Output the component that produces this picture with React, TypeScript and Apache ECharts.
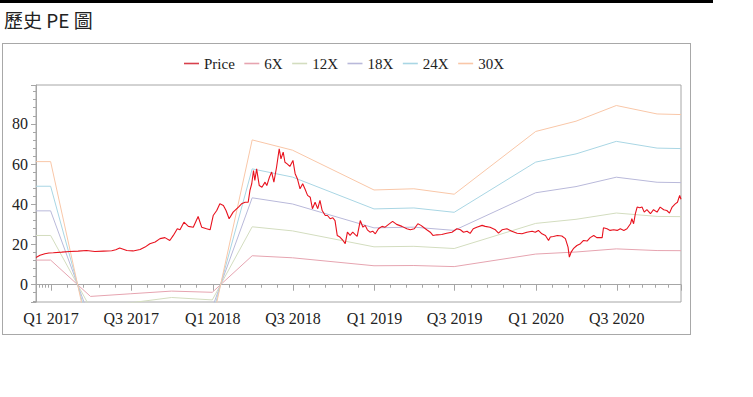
import React, { useEffect, useRef } from "react";
import * as echarts from "echarts";

const chartTitle = "歷史 PE 圖";
const legendNames = ["Price", "6X", "12X", "18X", "24X", "30X"];
const peMultiples = [6, 12, 18, 24, 30];
const priceColor = "#e8121e";
const bandColors = ["#e6a4b0", "#d3ddbf", "#b9b9da", "#a9d6e4", "#f9c7a8"];

// Quarterly EPS (per share) that the PE bands are built on
const epsDates = [
  "2016-11-28", "2016-12-31", "2017-03-31", "2017-06-30", "2017-09-30", "2017-12-31",
  "2018-03-31", "2018-06-30", "2018-12-31", "2019-03-31", "2019-06-30", "2019-12-31",
  "2020-03-31", "2020-06-30", "2020-09-30", "2020-11-23",
];
const epsValues = [
  2.04, 2.04, -0.97, -0.75, -0.53, -0.63,
  2.4, 2.23, 1.57, 1.59, 1.5, 2.54,
  2.71, 2.97, 2.83, 2.82,
];

const priceDates = [
  "2016-11-28", "2016-12-07", "2016-12-18", "2016-12-27", "2017-01-06", "2017-01-25", "2017-02-12", "2017-03-03",
  "2017-03-22", "2017-04-10", "2017-04-29", "2017-05-18", "2017-05-27", "2017-06-05", "2017-06-21", "2017-07-05",
  "2017-07-21", "2017-08-01", "2017-08-12", "2017-08-24", "2017-09-04", "2017-09-15", "2017-09-26", "2017-10-04",
  "2017-10-13", "2017-10-19", "2017-10-28", "2017-11-07", "2017-11-18", "2017-11-29", "2017-12-07", "2017-12-18",
  "2017-12-26", "2018-01-02", "2018-01-10", "2018-01-17", "2018-01-25", "2018-01-31", "2018-02-07", "2018-02-16",
  "2018-02-28", "2018-03-07", "2018-03-15", "2018-03-22", "2018-03-26", "2018-03-30", "2018-04-03", "2018-04-06",
  "2018-04-10", "2018-04-16", "2018-04-22", "2018-04-29", "2018-05-03", "2018-05-09", "2018-05-14", "2018-05-19",
  "2018-05-25", "2018-05-31", "2018-06-04", "2018-06-09", "2018-06-13", "2018-06-18", "2018-06-24", "2018-07-01",
  "2018-07-06", "2018-07-11", "2018-07-17", "2018-07-23", "2018-07-28", "2018-08-03", "2018-08-09", "2018-08-14",
  "2018-08-20", "2018-08-26", "2018-08-31", "2018-09-05", "2018-09-12", "2018-09-17", "2018-09-23", "2018-09-29",
  "2018-10-04", "2018-10-09", "2018-10-15", "2018-10-22", "2018-10-27", "2018-11-01", "2018-11-07", "2018-11-13",
  "2018-11-18", "2018-11-23", "2018-11-30", "2018-12-06", "2018-12-11", "2018-12-16", "2018-12-22", "2018-12-28",
  "2019-01-03", "2019-01-10", "2019-01-18", "2019-01-25", "2019-02-02", "2019-02-11", "2019-02-20", "2019-03-04",
  "2019-03-15", "2019-03-23", "2019-04-01", "2019-04-09", "2019-04-16", "2019-04-23", "2019-04-29", "2019-05-07",
  "2019-05-13", "2019-05-22", "2019-06-02", "2019-06-13", "2019-06-25", "2019-07-06", "2019-07-14", "2019-07-21",
  "2019-07-29", "2019-08-05", "2019-08-12", "2019-08-20", "2019-09-01", "2019-09-08", "2019-09-19", "2019-10-01",
  "2019-10-08", "2019-10-16", "2019-10-27", "2019-11-07", "2019-11-19", "2019-11-30", "2019-12-11", "2019-12-23",
  "2019-12-30", "2020-01-06", "2020-01-14", "2020-01-22", "2020-01-29", "2020-02-02", "2020-02-09", "2020-02-18",
  "2020-02-28", "2020-03-07", "2020-03-13", "2020-03-16", "2020-03-20", "2020-03-25", "2020-04-02", "2020-04-10",
  "2020-04-17", "2020-04-25", "2020-05-02", "2020-05-10", "2020-05-17", "2020-05-29", "2020-06-01", "2020-06-09",
  "2020-06-16", "2020-06-24", "2020-07-02", "2020-07-09", "2020-07-17", "2020-07-24", "2020-08-01", "2020-08-04",
  "2020-08-08", "2020-08-12", "2020-08-16", "2020-08-22", "2020-08-27", "2020-09-01", "2020-09-07", "2020-09-15",
  "2020-09-22", "2020-09-30", "2020-10-07", "2020-10-15", "2020-10-22", "2020-10-28", "2020-11-03", "2020-11-10",
  "2020-11-15", "2020-11-20", "2020-11-23",
];
const priceValues = [
  13.5, 14.6, 15.4, 15.8, 15.9, 16.2, 16.5, 16.7,
  17.0, 16.5, 16.7, 16.9, 17.4, 18.2, 17.0, 16.8,
  17.5, 18.7, 20.4, 21.2, 22.9, 23.4, 22.0, 24.5,
  27.8, 27.3, 31.1, 29.0, 28.6, 33.9, 28.6, 27.8,
  27.3, 34.4, 36.9, 40.2, 39.4, 36.9, 32.8, 36.1,
  38.6, 40.2, 41.0, 41.0, 46.9, 50.2, 56.8, 51.8,
  57.6, 49.3, 48.5, 51.0, 49.3, 53.5, 56.0, 51.0,
  58.4, 67.6, 62.6, 65.9, 60.9, 60.1, 58.8, 61.8,
  55.2, 52.7, 47.7, 50.2, 47.7, 44.4, 43.5, 37.8,
  41.0, 37.8, 41.9, 36.9, 34.4, 34.4, 32.8, 33.3,
  31.9, 24.5, 23.7, 22.0, 20.4, 26.1, 24.5, 26.1,
  25.0, 24.0, 31.9, 28.6, 29.5, 27.3, 26.1, 26.6,
  25.3, 27.8, 29.0, 28.6, 30.0, 31.5, 30.0, 29.0,
  27.8, 27.3, 27.8, 30.3, 29.5, 28.3, 27.3, 26.1,
  24.5, 24.8, 25.0, 25.6, 26.1, 27.8, 27.3, 26.1,
  26.6, 25.5, 27.8, 28.6, 29.5, 29.0, 28.6, 27.3,
  25.6, 27.3, 27.8, 26.6, 25.6, 25.3, 26.1, 26.6,
  26.1, 27.0, 25.3, 24.5, 22.0, 23.7, 24.0, 24.5,
  24.2, 22.9, 18.7, 13.7, 16.2, 17.9, 19.5, 20.4,
  22.0, 21.7, 23.4, 24.5, 23.4, 23.4, 28.3, 27.8,
  27.0, 27.3, 27.0, 27.8, 27.0, 27.8, 30.3, 32.8,
  30.3, 35.3, 38.6, 38.3, 38.6, 36.1, 37.3, 35.3,
  37.3, 36.1, 38.6, 37.3, 36.9, 35.6, 38.6, 40.2,
  41.0, 44.4, 42.5,
];

const yMin = -8.6;
const yMax = 99.3;

const toTs = (s: string) => {
  const [y, m, d] = s.split("-").map(Number);
  return new Date(y, m - 1, d).getTime();
};

const SERIF = "'Liberation Serif', 'Times New Roman', serif";
const AXIS_COLOR = "#a6a6a6";

export default function App() {
  const ref = useRef<HTMLDivElement>(null);

  useEffect(() => {
    if (!ref.current) return;
    const chart = echarts.init(ref.current, null, { renderer: "svg" });

    const series: any[] = [
      {
        name: legendNames[0],
        type: "line",
        data: priceDates.map((d, i) => [toTs(d), priceValues[i]]),
        symbol: "none",
        showSymbol: false,
        color: priceColor,
        lineStyle: { width: 1.1, color: priceColor },
        z: 5,
      },
      ...peMultiples.map((m, k) => ({
        name: legendNames[k + 1],
        type: "line",
        data: epsDates.map((d, i) => [toTs(d), +(epsValues[i] * m).toFixed(2)]),
        symbol: "none",
        showSymbol: false,
        color: bandColors[k],
        lineStyle: { width: 1, color: bandColors[k] },
        z: 2,
      })),
    ];

    try {
      chart.setOption({
        animation: false,
        legend: {
          data: legendNames.map((n, i) => ({
            name: n,
            icon: "rect",
            itemStyle: { color: i === 0 ? "#d8404c" : bandColors[i - 1] },
          })),
          top: 56,
          left: 184,
          padding: 0,
          itemWidth: 15,
          itemHeight: 1.6,
          itemGap: 9.5,
          textStyle: { fontFamily: SERIF, fontSize: 15, color: "#222" },
        },
        grid: {
          left: 36,
          right: 72,
          top: 85,
          bottom: 95,
          show: true,
          borderColor: AXIS_COLOR,
          borderWidth: 1,
        },
        xAxis: {
          type: "time",
          min: toTs(priceDates[0]),
          max: toTs(priceDates[priceDates.length - 1]),
          splitNumber: 8,
          axisLine: { show: true, lineStyle: { color: AXIS_COLOR } },
          axisTick: { show: true, length: 6, lineStyle: { color: AXIS_COLOR } },
          minorTick: { show: true, splitNumber: 5, length: 3, lineStyle: { color: AXIS_COLOR } },
          splitLine: { show: false },
          axisLabel: {
            fontFamily: SERIF,
            fontSize: 16,
            color: "#222",
            margin: 8,
            hideOverlap: false,
            showMinLabel: false,
            showMaxLabel: false,
            formatter: (v: number) => {
              const d = new Date(v);
              const mth = d.getMonth();
              if (d.getDate() !== 1) return "";
              if (mth === 0) return "Q1 " + d.getFullYear();
              if (mth === 6) return "Q3 " + d.getFullYear();
              return "";
            },
          },
        },
        yAxis: {
          type: "value",
          min: yMin,
          max: yMax,
          axisLine: { show: true, lineStyle: { color: AXIS_COLOR } },
          axisTick: { show: true, length: 5, lineStyle: { color: AXIS_COLOR } },
          minorTick: { show: true, splitNumber: 5, length: 3, lineStyle: { color: AXIS_COLOR } },
          splitLine: { show: false },
          axisLabel: {
            showMinLabel: false,
            showMaxLabel: false,
            fontFamily: SERIF,
            fontSize: 16,
            color: "#222",
            margin: 8,
          },
        },
        series,
      });
    } catch (e) {
      console.error(e);
    }
    return () => chart.dispose();
  }, []);

  return (
    <div style={{ position: "fixed", left: 0, top: 0, width: 753, height: 397, background: "#fff", overflow: "hidden" }}>
      <div style={{ position: "absolute", left: 0, top: 0, width: 713, height: 3, background: "#000" }} />
      <div
        style={{
          position: "absolute",
          left: 4,
          top: 10,
          fontFamily: "'Noto Sans CJK TC', 'Noto Sans', sans-serif",
          fontSize: 19,
          lineHeight: "20px",
          color: "#222",
          whiteSpace: "nowrap",
        }}
      >
        {chartTitle}
      </div>
      <div
        style={{
          position: "absolute",
          left: 2,
          top: 43,
          width: 687,
          height: 290,
          border: "1px solid #a8a8a8",
        }}
      />
      <div ref={ref} style={{ position: "absolute", left: 0, top: 0, width: 753, height: 397 }} />
    </div>
  );
}
